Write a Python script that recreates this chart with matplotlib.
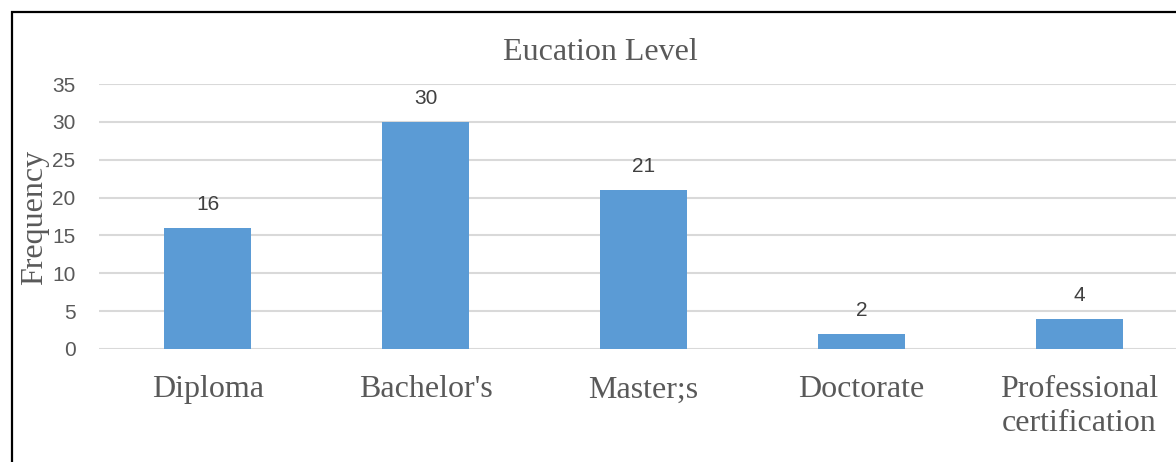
import numpy as np
import matplotlib.pyplot as plt
from matplotlib.patches import Rectangle

categories = ["Diploma", "Bachelor's", "Master;s", "Doctorate", "Professional\ncertification"]
frequency = [16, 30, 21, 2, 4]
y_ticks = [0, 5, 10, 15, 20, 25, 30, 35]

W, H = 1176, 462
fig = plt.figure(figsize=(W / 100, H / 100), dpi=100)

# plot area runs past the right edge of the picture, as in the reference crop
ax = fig.add_axes([99 / W, (H - 349) / H, (1188 - 99) / W, (349 - 84) / H])
x = np.arange(len(categories))
ax.bar(x, frequency, width=0.4, color="#5B9BD5", zorder=3)
for xi, v in zip(x, frequency):
    ax.annotate(str(v), (xi, v), xytext=(0, 17), textcoords="offset points",
                ha="center", va="center", fontsize=15, color="#404040",
                family="Liberation Sans")

ax.set_xlim(-0.5, len(categories) - 0.5)
ax.set_ylim(0, 35)
ax.set_yticks(y_ticks)
ax.yaxis.grid(True, color="#d9d9d9", linewidth=1.5, zorder=0)
ax.set_axisbelow(True)
for s in ax.spines.values():
    s.set_visible(False)
ax.tick_params(length=0)
ax.tick_params(axis="y", pad=17, labelsize=15, labelcolor="#595959")
for lab in ax.get_yticklabels():
    lab.set_family("Liberation Sans")
ax.set_xticks(x)
ax.set_xticklabels(categories, family="Liberation Serif", fontsize=23,
                   color="#595959", linespacing=1.2)
ax.tick_params(axis="x", pad=19)

fig.text(600 / W, 1 - 52 / H, "Eucation Level", ha="center", va="center",
         family="Liberation Serif", fontsize=23, color="#595959")
fig.text(35 / W, 1 - 217 / H, "Frequency", ha="center", va="center", rotation=90,
         family="Liberation Serif", fontsize=23, color="#595959")

# chart border (right and bottom edges fall outside the picture)
fig.patches.append(Rectangle((12 / W, -0.1), 1.2, 1 - 12 / H + 0.1,
                             transform=fig.transFigure, fill=False,
                             edgecolor="black", linewidth=1.6))

fig.savefig("out.png", dpi=100)
